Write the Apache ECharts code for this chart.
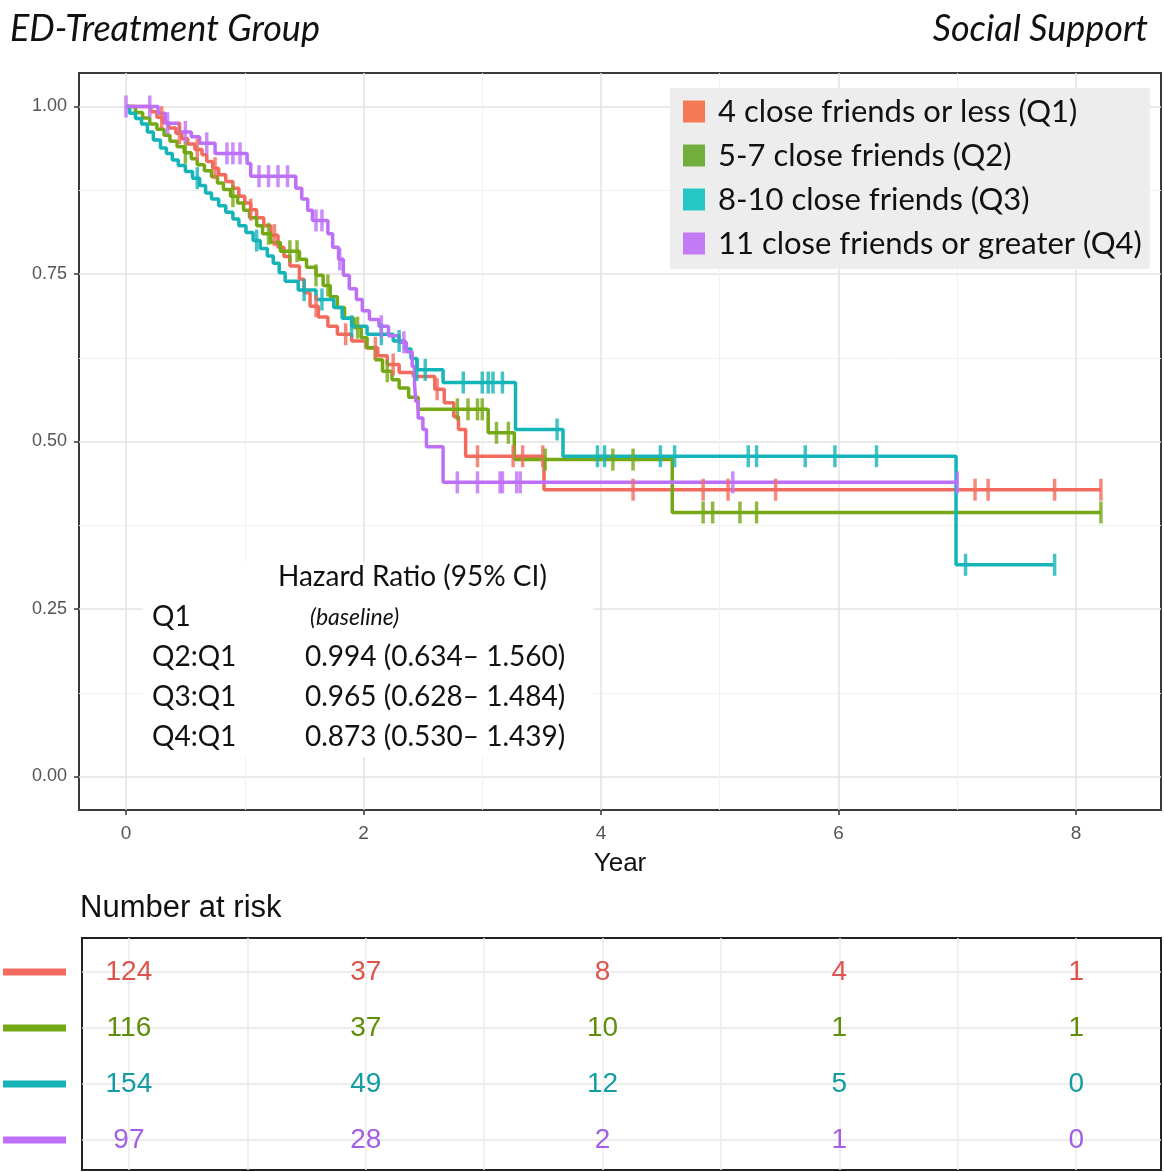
<!DOCTYPE html>
<html><head><meta charset="utf-8">
<script src="https://cdn.jsdelivr.net/npm/echarts@6/dist/echarts.min.js"></script>
<style>html,body{margin:0;padding:0;background:#fff}#c{width:1164px;height:1172px}</style>
</head><body><div id="c"></div>
<script>
// ---------- data ----------
const groupNames = ['4 close friends or less (Q1)', '5-7 close friends (Q2)', '8-10 close friends (Q3)', '11 close friends or greater (Q4)'];
const riskNames = ['Q1 at risk', 'Q2 at risk', 'Q3 at risk', 'Q4 at risk'];

// Kaplan-Meier steps: [time (years), survival after the event]
const stepsQ1 = [[0,1],[0.21,0.992],[0.26,0.984],[0.31,0.976],[0.36,0.968],[0.42,0.96],[0.47,0.952],[0.52,0.944],[0.58,0.936],[0.64,0.928],[0.68,0.918],[0.73,0.908],[0.78,0.898],[0.84,0.888],[0.9,0.878],[0.95,0.866],[1.0,0.856],[1.05,0.846],[1.1,0.834],[1.16,0.822],[1.22,0.808],[1.28,0.79],[1.33,0.776],[1.38,0.762],[1.46,0.742],[1.5,0.722],[1.55,0.702],[1.62,0.686],[1.7,0.672],[1.78,0.66],[1.9,0.65],[2.02,0.64],[2.12,0.628],[2.2,0.615],[2.3,0.603],[2.42,0.597],[2.6,0.578],[2.68,0.558],[2.76,0.537],[2.8,0.518],[2.86,0.478],[3.52,0.428]];
const stepsQ2 = [[0,1],[0.08,0.991],[0.14,0.983],[0.2,0.974],[0.26,0.966],[0.32,0.957],[0.37,0.948],[0.43,0.94],[0.49,0.931],[0.55,0.922],[0.6,0.913],[0.66,0.904],[0.72,0.895],[0.77,0.886],[0.82,0.876],[0.88,0.866],[0.94,0.856],[0.99,0.845],[1.04,0.834],[1.1,0.822],[1.15,0.81],[1.22,0.797],[1.3,0.784],[1.46,0.772],[1.52,0.76],[1.6,0.748],[1.66,0.733],[1.72,0.716],[1.78,0.7],[1.84,0.684],[1.92,0.67],[1.98,0.655],[2.03,0.64],[2.1,0.622],[2.16,0.605],[2.24,0.592],[2.3,0.58],[2.38,0.566],[2.46,0.548],[3.05,0.513],[3.27,0.473],[4.6,0.394]];
const stepsQ3 = [[0,1],[0.03,0.99],[0.08,0.982],[0.13,0.974],[0.18,0.962],[0.23,0.95],[0.29,0.938],[0.34,0.93],[0.39,0.92],[0.44,0.912],[0.5,0.903],[0.56,0.893],[0.62,0.882],[0.67,0.871],[0.72,0.862],[0.78,0.852],[0.84,0.842],[0.9,0.832],[0.95,0.822],[1.01,0.812],[1.07,0.8],[1.13,0.788],[1.19,0.777],[1.24,0.766],[1.29,0.752],[1.34,0.739],[1.45,0.726],[1.6,0.712],[1.75,0.7],[1.82,0.684],[1.9,0.672],[2.03,0.66],[2.25,0.65],[2.35,0.638],[2.4,0.624],[2.45,0.607],[2.67,0.588],[3.28,0.518],[3.68,0.478],[6.99,0.316]];
const stepsQ4 = [[0,1],[0.27,0.99],[0.33,0.975],[0.45,0.962],[0.55,0.955],[0.62,0.945],[0.75,0.93],[1.02,0.915],[1.05,0.896],[1.43,0.878],[1.48,0.862],[1.53,0.845],[1.57,0.83],[1.7,0.81],[1.74,0.79],[1.79,0.772],[1.83,0.748],[1.88,0.728],[1.94,0.712],[1.99,0.695],[2.05,0.682],[2.13,0.672],[2.21,0.658],[2.3,0.648],[2.36,0.634],[2.41,0.612],[2.43,0.585],[2.44,0.56],[2.46,0.535],[2.5,0.518],[2.53,0.492],[2.67,0.439]];

// last follow-up time of each curve
const endTimes = [8.21, 8.21, 7.81, 7.0];

// censoring times
const censorQ1 = [0.3,0.45,0.6,0.75,1.05,1.25,1.6,1.85,2.1,2.25,2.62,2.96,3.26,3.34,3.51,4.27,4.86,5.07,5.47,7.15,7.26,7.82,8.21];
const censorQ2 = [0.5,0.9,1.2,1.38,1.44,1.6,1.7,1.95,2.2,2.79,2.88,2.96,3.0,3.12,3.22,3.53,4.1,4.27,4.86,4.94,5.17,5.31,8.21];
const censorQ3 = [0.6,1.1,1.5,1.65,1.9,2.15,2.3,2.45,2.52,2.84,3.0,3.05,3.09,3.17,3.63,3.97,4.03,4.5,4.62,5.24,5.31,5.72,5.97,6.32,7.07,7.82];
const censorQ4 = [0.0,0.2,0.35,0.5,0.68,0.85,0.9,0.96,1.12,1.2,1.28,1.36,1.6,1.65,1.8,2.15,2.34,2.79,2.96,3.15,3.17,3.29,3.32,5.11,7.0];

// number at risk table
const riskTimes = [0, 2, 4, 6, 8];
const riskQ1 = [124, 37, 8, 4, 1];
const riskQ2 = [116, 37, 10, 1, 1];
const riskQ3 = [154, 49, 12, 5, 0];
const riskQ4 = [97, 28, 2, 1, 0];

// axis ticks
const xMajor = [0, 2, 4, 6, 8];
const xMinor = [1, 3, 5, 7];
const yMajor = [0, 0.25, 0.5, 0.75, 1];
const yMinor = [0.125, 0.375, 0.625, 0.875];
const riskGridX = [0, 1, 2, 3, 4, 5, 6, 7, 8];
const riskRows = [0, 1, 2, 3];

// ---------- style ----------
const lineColors = ['#F26B5E', '#74A814', '#14B4B8', '#BD70F7'];
const keyColors = ['#F47A55', '#72AE3E', '#26C6C6', '#C27BF5'];
const textColors = ['#DE5550', '#5F8E0C', '#139DA2', '#A25FE6'];
const sans = "'Liberation Sans', Arial, sans-serif";
const human = "Lato, 'Open Sans', sans-serif";
const X_MIN = -0.396, X_MAX = 8.716;

const steps = [stepsQ1, stepsQ2, stepsQ3, stepsQ4];
const censors = [censorQ1, censorQ2, censorQ3, censorQ4];
const risks = [riskQ1, riskQ2, riskQ3, riskQ4];

function survAt(st, t) {
  let s = st[0][1];
  for (const p of st) { if (p[0] <= t + 1e-9) s = p[1]; else break; }
  return s;
}

const series = [];
steps.forEach((st, i) => {
  const data = st.map(p => [p[0], p[1]]);
  data.push([endTimes[i], st[st.length - 1][1]]);
  series.push({
    name: groupNames[i], type: 'line', step: 'end', xAxisIndex: 0, yAxisIndex: 0,
    data: data, showSymbol: false, symbol: 'none', clip: false,
    lineStyle: { color: lineColors[i], width: 3.5 }, itemStyle: { color: lineColors[i] },
    z: 2 + i * 0.01, animation: false
  });
});
censors.forEach((cs, i) => {
  series.push({
    name: groupNames[i], type: 'scatter', xAxisIndex: 0, yAxisIndex: 0,
    data: cs.map(t => [t, survAt(steps[i], t)]),
    symbol: 'rect', symbolSize: [3.5, 22],
    itemStyle: { color: lineColors[i] }, z: 3, animation: false, silent: true
  });
});
risks.forEach((r, i) => {
  series.push({
    name: riskNames[i], type: 'scatter', xAxisIndex: 2, yAxisIndex: 2,
    data: riskTimes.map((t, j) => [t, riskRows[i], r[j]]),
    symbol: 'circle', symbolSize: 2, itemStyle: { color: '#fff', opacity: 1 },
    label: { show: true, position: 'inside', formatter: p => String(p.value[2]),
      color: textColors[i], opacity: 1, fontSize: 28, fontFamily: sans },
    z: 5, animation: false, silent: true
  });
});

const rich = {};
riskRows.forEach((r, i) => { rich['r' + r] = { backgroundColor: lineColors[i], width: 63, height: 7 }; });

const chart = echarts.init(document.getElementById('c'), null, { renderer: 'canvas' });
chart.setOption({
  animation: false,
  backgroundColor: '#fff',
  grid: [
    { left: 79, right: 3, top: 73, bottom: 362, show: true, borderColor: '#3a3a3a', borderWidth: 2, backgroundColor: '#fff' },
    { left: 79, right: 3, top: 938, bottom: 2, show: true, borderColor: '#222', borderWidth: 2, backgroundColor: '#fff' }
  ],
  xAxis: [
    { type: 'value', gridIndex: 0, min: X_MIN, max: X_MAX, position: 'bottom',
      axisLine: { show: false, onZero: false },
      axisTick: { show: true, customValues: xMajor, length: 5, lineStyle: { color: '#333', width: 1.5 } },
      axisLabel: { customValues: xMajor, fontSize: 19, color: '#555', fontFamily: sans, margin: 14 },
      splitLine: { show: true, lineStyle: { color: '#E2E2E2', width: 1.5 } },
      name: 'Year', nameLocation: 'middle', nameGap: 41,
      nameTextStyle: { fontSize: 26, color: '#111', fontFamily: sans } },
    { type: 'value', gridIndex: 0, min: X_MIN, max: X_MAX, position: 'top',
      axisLine: { show: false, onZero: false }, axisTick: { show: false, customValues: xMinor },
      axisLabel: { show: false }, splitLine: { show: true, lineStyle: { color: '#F1F1F1', width: 1 } } },
    { type: 'value', gridIndex: 1, min: X_MIN, max: X_MAX, position: 'bottom',
      axisLine: { show: false, onZero: false }, axisTick: { show: false, customValues: riskGridX },
      axisLabel: { show: false }, splitLine: { show: true, lineStyle: { color: '#EBEBEB', width: 1.5 } } }
  ],
  yAxis: [
    { type: 'value', gridIndex: 0, min: -0.05, max: 1.05, position: 'left',
      axisLine: { show: false, onZero: false },
      axisTick: { show: true, customValues: yMajor, length: 5, lineStyle: { color: '#333', width: 1.5 } },
      axisLabel: { customValues: yMajor, formatter: v => Number(v).toFixed(2), fontSize: 18, color: '#555', fontFamily: sans, margin: 12 },
      splitLine: { show: true, lineStyle: { color: '#E2E2E2', width: 1.5 } } },
    { type: 'value', gridIndex: 0, min: -0.05, max: 1.05, position: 'right',
      axisLine: { show: false, onZero: false }, axisTick: { show: false, customValues: yMinor },
      axisLabel: { show: false }, splitLine: { show: true, lineStyle: { color: '#F1F1F1', width: 1 } } },
    { type: 'value', gridIndex: 1, min: -0.607, max: 3.536, inverse: true, position: 'left',
      axisLine: { show: false, onZero: false }, axisTick: { show: false, customValues: riskRows },
      axisLabel: { customValues: riskRows, formatter: v => '{r' + Math.round(v) + '| }', rich: rich, margin: 16 },
      splitLine: { show: true, lineStyle: { color: '#E6E6E6', width: 1.5 } } }
  ],
  legend: {
    data: groupNames.map((n, i) => ({ name: n, icon: 'rect', itemStyle: { color: keyColors[i] } })),
    orient: 'vertical', left: 670, top: 88,
    backgroundColor: '#EDEDED', padding: [8, 8, 10, 13],
    itemWidth: 22, itemHeight: 22, itemGap: 13, selectedMode: false,
    textStyle: { fontFamily: human, fontSize: 31, color: '#111', lineHeight: 30, padding: [0, 0, 0, 8] }
  },
  graphic: [
    { type: 'text', left: 10, top: 11, style: { text: 'ED-Treatment Group', font: 'italic 36px ' + human, fill: '#111' } },
    { type: 'text', right: 16, top: 11, style: { text: 'Social Support', font: 'italic 36px ' + human, fill: '#111' } },
    { type: 'text', left: 80, top: 893, style: { text: 'Number at risk', font: '31px ' + sans, fill: '#111' } },
    { type: 'rect', shape: { x: 143, y: 562, width: 450, height: 195 }, style: { fill: '#fff' }, z: 1 },
    { type: 'text', left: 278, top: 563, z: 10, style: { text: 'Hazard Ratio (95% CI)', font: '28px ' + human, fill: '#111' } },
    { type: 'text', left: 152, top: 603, z: 10, style: { text: 'Q1', font: '28px ' + human, fill: '#111' } },
    { type: 'text', left: 310, top: 606, z: 10, style: { text: '(baseline)', font: 'italic 23px ' + human, fill: '#111' } },
    { type: 'text', left: 152, top: 643, z: 10, style: { text: 'Q2:Q1', font: '28px ' + human, fill: '#111' } },
    { type: 'text', left: 305, top: 643, z: 10, style: { text: '0.994 (0.634\u2013 1.560)', font: '28px ' + human, fill: '#111' } },
    { type: 'text', left: 152, top: 683, z: 10, style: { text: 'Q3:Q1', font: '28px ' + human, fill: '#111' } },
    { type: 'text', left: 305, top: 683, z: 10, style: { text: '0.965 (0.628\u2013 1.484)', font: '28px ' + human, fill: '#111' } },
    { type: 'text', left: 152, top: 723, z: 10, style: { text: 'Q4:Q1', font: '28px ' + human, fill: '#111' } },
    { type: 'text', left: 305, top: 723, z: 10, style: { text: '0.873 (0.530\u2013 1.439)', font: '28px ' + human, fill: '#111' } }
  ],
  series: series
});
</script>
</body></html>
